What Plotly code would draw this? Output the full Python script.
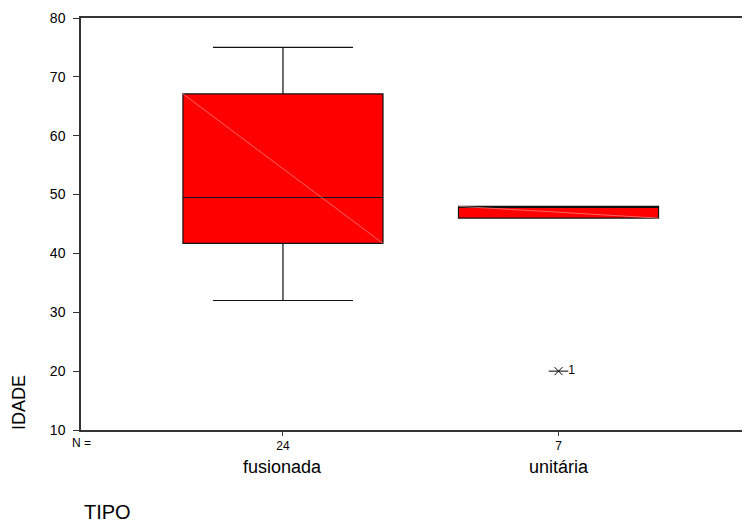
import plotly.graph_objects as go

categories = ["fusionada", "unitária"]
counts = ["24", "7"]
q1 = [41.7, 46.0]
median = [49.5, 48.0]
q3 = [67.1, 48.0]
lower_whisker = [32.0, 46.0]
upper_whisker = [75.0, 48.0]
outlier_cat = [1]
outlier_val = [20.0]
outlier_lbl = ["1"]
y_ticks = [10, 20, 30, 40, 50, 60, 70, 80]

positions = list(range(len(categories)))
BOX_W = 0.726
FONT = "Liberation Sans, Arial"

fig = go.Figure()
for i, p in enumerate(positions):
    fig.add_trace(go.Box(
        x=[p], q1=[q1[i]], median=[median[i]], q3=[q3[i]],
        lowerfence=[lower_whisker[i]], upperfence=[upper_whisker[i]],
        width=BOX_W, whiskerwidth=0.7,
        fillcolor="#ff0000", line=dict(color="#111111", width=1.2),
        boxpoints=False, showlegend=False, hoverinfo="skip",
    ))
    # faint diagonal rendering line inside the box
    fig.add_trace(go.Scatter(
        x=[p - BOX_W / 2, p + BOX_W / 2], y=[q3[i], q1[i]],
        mode="lines", line=dict(color="rgba(255,140,140,0.7)", width=1),
        showlegend=False, hoverinfo="skip",
    ))

# extreme value marker: x with horizontal bar, plus case label
fig.add_trace(go.Scatter(
    x=outlier_cat, y=outlier_val, mode="markers",
    marker=dict(symbol="x-thin-open", size=8, color="black",
                line=dict(color="black", width=1)),
    showlegend=False, hoverinfo="skip",
))
fig.add_trace(go.Scatter(
    x=outlier_cat, y=outlier_val, mode="markers+text",
    marker=dict(symbol="line-ew-open", size=14, color="black",
                line=dict(color="black", width=1)),
    text=outlier_lbl, textposition="middle right",
    textfont=dict(family=FONT, size=12, color="black"),
    showlegend=False, hoverinfo="skip",
))

for i, p in enumerate(positions):
    fig.add_annotation(x=p, y=0, xref="x", yref="paper", yshift=-37,
                       xanchor="center", yanchor="middle",
                       text=categories[i], showarrow=False,
                       font=dict(family=FONT, size=18, color="black"))

fig.add_annotation(x=0, y=0, xref="paper", yref="paper", yshift=-13,
                   xanchor="center", yanchor="middle",
                   text="N =", showarrow=False,
                   font=dict(family=FONT, size=12, color="black"))

fig.add_annotation(x=(107 - 81) / 669, y=-(512 - 430) / 412, xref="paper", yref="paper",
                   xanchor="center", yanchor="middle",
                   text="TIPO", showarrow=False,
                   font=dict(family=FONT, size=20, color="black"))

fig.add_annotation(x=-(81 - 19) / 669, y=(430 - 403) / 412, xref="paper", yref="paper",
                   xanchor="center", yanchor="middle",
                   text="IDADE", textangle=-90, showarrow=False,
                   font=dict(family=FONT, size=18, color="black"))

fig.update_layout(
    width=750, height=525,
    margin=dict(l=73, r=8, t=10, b=103),
    paper_bgcolor="white", plot_bgcolor="white",
    font=dict(family=FONT, color="black"),
    xaxis=dict(range=[-0.733, 1.695], tickvals=positions, ticktext=counts,
               ticks="outside", ticklen=4, tickcolor="#444", showgrid=False,
               zeroline=False, showline=True, linecolor="#333", linewidth=1.5,
               mirror=True, automargin=False, tickfont=dict(size=12, color="black")),
    yaxis=dict(range=[10, 80], tickvals=y_ticks, ticks="outside", ticklen=6,
               tickcolor="#333", showgrid=False, zeroline=False, showline=True,
               linecolor="#333", linewidth=1.5, automargin=False,
               ticklabelstandoff=5,
               tickfont=dict(size=14, color="black")),
)

fig.write_html("out.html")
